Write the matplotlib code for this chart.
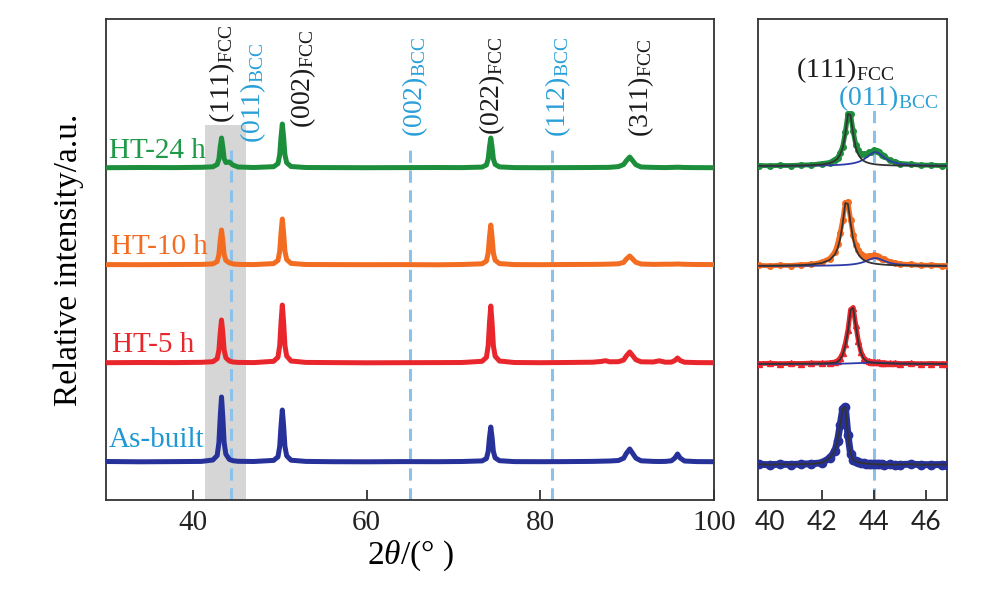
import matplotlib
matplotlib.use("Agg")
import matplotlib.pyplot as plt
import numpy as np

plt.rcParams['font.family'] = ['Liberation Serif', 'DejaVu Serif']
plt.rcParams['mathtext.fontset'] = 'custom'
plt.rcParams['mathtext.rm'] = 'Liberation Serif'
plt.rcParams['mathtext.it'] = 'Liberation Serif:italic'
plt.rcParams['mathtext.bf'] = 'Liberation Serif:bold'

# ---- data (intensity above each baseline, a.u.) ----
samples = ['As-built', 'HT-5 h', 'HT-10 h', 'HT-24 h']

main_x = [30, 34, 38, 41, 42.3, 42.8, 43.0, 43.15, 43.3, 43.45, 43.6, 43.8, 44.2, 44.6, 45.2, 47,
          49.3, 49.8, 50.0, 50.15, 50.3, 50.45, 50.6, 50.8, 51.3, 53, 56, 60, 64, 68, 71,
          73.3, 73.8, 74.0, 74.15, 74.3, 74.45, 74.6, 74.8, 75.3, 77, 80, 83, 86, 87.0, 87.5, 88.0,
          89.0, 89.6, 89.9, 90.3, 90.7, 91.0, 91.6, 93.0, 93.7, 94.4, 95.1, 95.5, 95.8, 96.1, 96.6, 98, 100]

asbuilt_main = [0.5, 0.2, 0.4, 0.6, 2, 6.5, 19.5, 45, 65, 45, 19.5, 7.8, 2.6, 1.3, 0.7, 0.5,
                1.6, 5.2, 15.6, 36, 52, 36, 15.6, 6.2, 1.8, 0.6, 0.3, 0.2, 0.4, 0.3, 0.5,
                1.1, 3.5, 10.5, 24.5, 35, 24.5, 10.5, 4.2, 1.3, 0.4, 0.3, 0.4, 0.6, 0.8, 0.9, 1.0,
                1.5, 3.8, 8.5, 13, 7.8, 3.9, 1.2, 0.6, 0.5, 0.6, 1.2, 4, 8, 4, 1.0, 0.4, 0.3]
ht5_main = [0.3, 0.5, 0.4, 0.7, 1.3, 4.3, 12.9, 30, 43, 30, 12.9, 5.2, 2.0, 1.0, 0.6, 0.4,
            1.7, 5.8, 17.4, 40.6, 58, 40.6, 17.4, 7, 2, 0.6, 0.4, 0.2, 0.3, 0.4, 0.5,
            1.7, 5.7, 17.1, 40, 57, 40, 17.1, 6.8, 2, 0.5, 0.3, 0.5, 0.8, 1.5, 2.3, 1.2,
            1.3, 3, 7, 11, 6.6, 3.3, 1.2, 1.0, 2.2, 0.8, 0.9, 2.5, 5, 2.5, 0.8, 0.4, 0.3]
ht10_main = [0.4, 0.3, 0.5, 0.6, 1.1, 3.5, 10.5, 24.5, 35, 24.5, 10.5, 4.6, 2.2, 1.1, 0.6, 0.4,
             1.4, 4.6, 13.8, 32, 46, 32, 13.8, 5.5, 1.6, 0.5, 0.4, 0.3, 0.4, 0.2, 0.5,
             1.2, 4, 12, 28, 40, 28, 12, 4.8, 1.4, 0.4, 0.3, 0.5, 0.6, 0.7, 0.8, 0.9,
             1.2, 2.6, 5.9, 9, 5.4, 2.7, 1.0, 0.6, 0.7, 0.8, 0.8, 0.9, 1.0, 0.9, 0.7, 0.5, 0.4]
ht24_main = [0.3, 0.5, 0.4, 0.7, 1.2, 3.5, 9, 21, 30, 21, 9.5, 5.5, 6, 3, 1, 0.5,
             1.3, 4.4, 13.2, 30.8, 44, 30.8, 13.2, 5.3, 1.5, 0.5, 0.4, 0.3, 0.4, 0.5, 0.4,
             0.9, 3, 9, 21, 30, 21, 9, 3.6, 1.1, 0.4, 0.3, 0.4, 0.5, 0.6, 0.6, 0.7,
             1.4, 3.5, 7.2, 11, 6.6, 3.3, 1.0, 0.6, 0.5, 0.4, 0.6, 0.7, 0.8, 0.7, 0.5, 0.4, 0.3]

# zoomed (111)FCC / (011)BCC region: measured points and peak fits
zoom_x = [39.6, 40.0, 40.4, 40.8, 41.2, 41.6, 42.0, 42.3, 42.5, 42.6, 42.7, 42.8, 42.9,
          43.0, 43.1, 43.2, 43.3, 43.4, 43.5, 43.6, 43.7, 43.8, 43.9, 44.0, 44.1, 44.2, 44.3, 44.4,
          44.6, 44.8, 45.0, 45.4, 45.8, 46.2, 46.6, 46.8]

asbuilt_zoom = [0.6, 0.3, 0.8, 0.5, 0.9, 1.2, 2.2, 7.0, 14.0, 24.0, 40.0, 56.0, 58.0,
                30.0, 11.0, 5.5, 3.6, 2.8, 2.2, 1.8, 1.5, 1.2, 1.0, 0.8, 0.9, 0.6, 0.7, 0.4,
                0.6, 0.3, 0.5, 0.8, 0.4, 0.3, 0.5, 0.4]
ht5_zoom = [0.4, 0.7, 0.3, 0.6, 0.5, 0.9, 0.8, 1.2, 2.0, 3.2, 6.0, 11.0, 20.5,
            34.0, 54.5, 56.5, 39.0, 23.0, 12.0, 6.5, 3.8, 2.8, 2.4, 2.0, 1.6, 1.7, 1.1, 1.2,
            0.6, 0.9, 0.4, 0.6, 0.2, 0.5, 0.3, 0.4]
ht10_zoom = [0.6, 0.2, 0.7, 0.5, 1.3, 1.6, 3.8, 7.5, 14.0, 22.0, 33.0, 46.0, 63.5,
             64.0, 46.5, 31.0, 21.5, 16.0, 12.5, 10.5, 9.4, 10.3, 9.8, 10.9, 9.6, 9.5, 7.2, 6.8,
             4.5, 3.4, 1.8, 1.6, 0.6, 0.9, 0.3, 0.5]
ht24_zoom = [0.5, 0.2, 0.6, 0.4, 1.0, 1.1, 2.4, 3.5, 6.5, 8.2, 12.9, 19.4, 33.9,
             52.5, 51.8, 35.0, 21.2, 15.9, 12.2, 12.0, 11.8, 13.6, 14.3, 16.0, 15.0, 14.1, 11.0, 9.6,
             5.6, 4.2, 2.5, 1.8, 0.8, 0.9, 0.3, 0.6]

ht5_fcc_fit = [0.2, 0.2, 0.25, 0.3, 0.35, 0.4, 0.55, 0.8, 1.3, 2.2, 4.5, 9.5, 18.5,
               33.0, 54.0, 56.0, 38.0, 21.5, 11.0, 5.5, 3.0, 2.0, 1.5, 1.2, 1.0, 0.9, 0.8, 0.7,
               0.5, 0.4, 0.35, 0.3, 0.25, 0.2, 0.2, 0.2]
ht5_bcc_fit = [0.05, 0.05, 0.05, 0.1, 0.1, 0.1, 0.15, 0.2, 0.25, 0.3, 0.35, 0.4, 0.45,
               0.5, 0.6, 0.7, 0.8, 0.9, 1.0, 1.1, 1.25, 1.35, 1.45, 1.5, 1.45, 1.35, 1.25, 1.1,
               0.8, 0.6, 0.45, 0.3, 0.2, 0.15, 0.1, 0.1]
ht10_fcc_fit = [0.25, 0.33, 0.44, 0.62, 0.92, 1.54, 3.0, 6.1, 11.6, 17.2, 26.9, 43.0, 63.0,
                62.0, 43.0, 26.9, 17.2, 11.6, 8.3, 6.1, 4.7, 3.7, 3.0, 2.5, 2.1, 1.8, 1.54, 1.33,
                1.04, 0.83, 0.67, 0.47, 0.35, 0.27, 0.21, 0.19]
ht10_bcc_fit = [0.08, 0.1, 0.12, 0.15, 0.19, 0.26, 0.37, 0.5, 0.62, 0.7, 0.8, 0.92, 1.07,
                1.24, 1.47, 1.75, 2.12, 2.59, 3.2, 4.0, 5.0, 6.1, 7.2, 7.9, 7.9, 7.2, 6.1, 5.0,
                3.2, 2.12, 1.47, 0.8, 0.5, 0.34, 0.24, 0.2]
ht24_fcc_fit = [0.15, 0.19, 0.25, 0.34, 0.51, 0.82, 1.54, 2.94, 5.2, 7.45, 11.3, 18.4, 31.9,
                52.0, 51.0, 31.9, 18.4, 11.3, 7.45, 5.2, 3.85, 2.94, 2.32, 1.87, 1.54, 1.29, 1.1, 0.95,
                0.72, 0.57, 0.46, 0.32, 0.23, 0.17, 0.13, 0.12]
ht24_bcc_fit = [0.12, 0.15, 0.18, 0.23, 0.3, 0.4, 0.56, 0.76, 0.96, 1.08, 1.24, 1.42, 1.65,
                1.94, 2.29, 2.75, 3.34, 4.1, 5.16, 6.5, 8.3, 10.3, 12.4, 13.8, 13.8, 12.4, 10.3, 8.3,
                5.16, 3.34, 2.29, 1.24, 0.76, 0.51, 0.37, 0.33]

fcc_labels = ['(111)', '(002)', '(022)', '(311)']
fcc_label_x = [43.4, 52.7, 74.5, 91.6]
fcc_label_y = [339, 334, 327, 325]
bcc_labels = ['(011)', '(002)', '(112)']
bcc_label_x = [46.9, 65.6, 82.0]
bcc_label_y = [319, 325, 325]
bcc_lines = [44.4, 65.0, 81.4]

# ---- styles ----
line_colors = ['#27319a', '#e8262b', '#f26c22', '#1d8f3c']
label_colors = ['#1f97d4', '#e8262b', '#f26c22', '#1f9a48']
main_offsets = [0, 99, 197, 294]
zoom_offsets = [0, 101, 199, 299]
label_pos = [(30.35, 15), (30.7, 110), (30.6, 208), (30.35, 304)]
markers = ['o', '^', 'o', 'o']
msizes = [6, 5, 4, 4]
zoom_lw = [5.0, 3.5, 3.5, 3.5]
bcc_color = '#2a9fd8'
dash_color = '#8cc2ea'
spine_color = '#333333'

fig = plt.figure(figsize=(9.82, 6.02), dpi=100)
fig.patch.set_facecolor('white')
ax = fig.add_axes([106 / 982, 1 - 500 / 602, 608 / 982, 481 / 602])
ax2 = fig.add_axes([758 / 982, 1 - 500 / 602, 189 / 982, 481 / 602])

# ---- main panel ----
ax.set_xlim(30, 100)
ax.set_ylim(-38, 443)
ax.axvspan(41.4, 46.1, ymin=0, ymax=(337 + 38) / 481, color='#d6d6d6', lw=0, zorder=0)
for bx in bcc_lines:
    ax.vlines(bx, -38, 317, colors=dash_color, linestyles=(0, (4, 2.5)), lw=2.2, zorder=1)

main_series = [asbuilt_main, ht5_main, ht10_main, ht24_main]
for i, ys in enumerate(main_series):
    ax.plot(main_x, np.array(ys) + main_offsets[i], color=line_colors[i], lw=3.6,
            solid_joinstyle='round', zorder=3)
    ax.text(label_pos[i][0], label_pos[i][1], samples[i], color=label_colors[i],
            fontsize=21, ha='left', va='baseline', zorder=4)

for lab, lx, ly in zip(fcc_labels, fcc_label_x, fcc_label_y):
    ax.text(lx, ly, lab + r'$_{\mathrm{FCC}}$', rotation=90, ha='center', va='bottom',
            fontsize=20, color='#1a1a1a')
for lab, lx, ly in zip(bcc_labels, bcc_label_x, bcc_label_y):
    ax.text(lx, ly, lab + r'$_{\mathrm{BCC}}$', rotation=90, ha='center', va='bottom',
            fontsize=20, color=bcc_color)

ax.set_xticks([40, 60, 80, 100])
ax.set_yticks([])
ax.tick_params(axis='x', direction='in', length=7, width=1.2, pad=7, labelsize=21,
               colors='#222222')
ax.set_xlabel(r'2$\theta$/(° )', fontsize=24, labelpad=2)
ax.set_ylabel('Relative intensity/a.u.', fontsize=24, labelpad=16)

# ---- zoomed panel ----
ax2.set_xlim(39.55, 46.8)
ax2.set_ylim(-35, 446)
ax2.vlines(44.0, -35, 355, colors=dash_color, linestyles=(0, (4, 2.5)), lw=2.2, zorder=1)

zoom_series = [asbuilt_zoom, ht5_zoom, ht10_zoom, ht24_zoom]
fcc_fits = [asbuilt_zoom, ht5_fcc_fit, ht10_fcc_fit, ht24_fcc_fit]
bcc_fits = [None, ht5_bcc_fit, ht10_bcc_fit, ht24_bcc_fit]
for i, ys in enumerate(zoom_series):
    off = zoom_offsets[i]
    ax2.plot(zoom_x, np.array(ys) + off, color=line_colors[i], lw=zoom_lw[i], marker=markers[i],
             ms=msizes[i], mec=line_colors[i], zorder=3)
    if bcc_fits[i] is not None:
        ax2.plot(zoom_x, np.array(bcc_fits[i]) + off, color='#2e3aa8', lw=1.3, zorder=4)
    ax2.plot(zoom_x, np.array(fcc_fits[i]) + off, color='#333333', lw=1.3, zorder=5)

ax2.text(41.02, 388, r'(111)$_{\mathrm{FCC}}$', fontsize=20, color='#1a1a1a', ha='left',
         va='baseline')
ax2.text(42.6, 360, r'(011)$_{\mathrm{BCC}}$', fontsize=20, color=bcc_color, ha='left',
         va='baseline')

ax2.set_xticks([40, 42, 44, 46])
ax2.set_yticks([])
ax2.tick_params(axis='x', direction='in', length=7, width=1.2, pad=7, labelsize=19,
                colors='#222222')
for t in ax2.get_xticklabels():
    t.set_fontfamily(['Lato', 'DejaVu Sans'])
ax2.xaxis.get_major_ticks()[0].tick1line.set_visible(False)

for a in (ax, ax2):
    for s in a.spines.values():
        s.set_color(spine_color)
        s.set_linewidth(1.3)

fig.savefig('out.png', dpi=100)
